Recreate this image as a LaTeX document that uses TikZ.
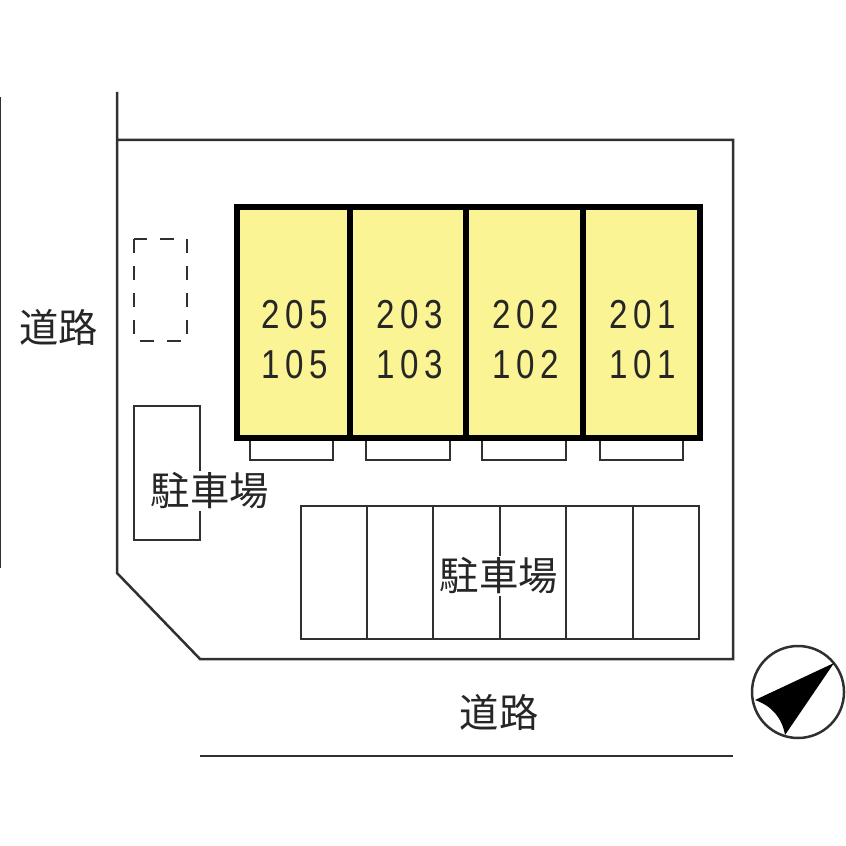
\documentclass[tikz,border=0pt]{standalone}
\usepackage{fontspec}
\setmainfont{Noto Sans CJK JP}
\newfontfamily\numfont[FakeStretch=0.82, LetterSpace=14]{Liberation Sans}
\definecolor{unityellow}{HTML}{FBF495}
\definecolor{planline}{HTML}{303030}
\tikzset{
	plan/.style={draw=planline, line width=0.25mm},
	unit/.style={draw=black, line width=0.6mm, fill=unityellow},
	lab/.style={font=\fontsize{11.2pt}{12pt}\selectfont, text=black!85, fill=white, inner sep=0.5pt},
	num/.style={font=\numfont\fontsize{11.5pt}{14.2pt}\selectfont, text=black!85, align=center, inner sep=0pt}
}
\begin{document}
\begin{tikzpicture}[x=0.1mm, y=-0.1mm]
	\useasboundingbox (0,0) rectangle (846,846);
	% roads and site
	\draw[plan] (0,97) -- (0,568);
	\draw[plan] (200,756) -- (733,756);
	\draw[plan] (117,92) -- (117,573) -- (200,659) -- (733,659) -- (733,140) -- (117,140);
	% building
	\draw[plan] (250,438) rectangle (333,460);
	\draw[plan] (366,438) rectangle (450,460);
	\draw[plan] (482,438) rectangle (566,460);
	\draw[plan] (600,438) rectangle (683,460);
	\draw[unit] (237,207) rectangle (350,438);
	\draw[unit] (350,207) rectangle (466,438);
	\draw[unit] (466,207) rectangle (583,438);
	\draw[unit] (583,207) rectangle (700,438);
	\node[num] (unitA) at (295,340) {205\\105};
	\node[num] (unitB) at (410,340) {203\\103};
	\node[num] (unitC) at (526,340) {202\\102};
	\node[num] (unitD) at (643,340) {201\\101};
	% parking
	\draw[plan, dash pattern=on 1.4mm off 1.3mm] (134,239) rectangle (187,341);
	\draw[plan] (134,406) rectangle (200,540);
	\draw[plan] (301,506) rectangle (699,639);
	\foreach \x in {367,433,500,566,633}
		\draw[plan] (\x,506) -- (\x,639);
	% labels
	\node[lab] (parkLeft) at (210,491) {駐車場};
	\node[lab] (parkMain) at (499,576) {駐車場};
	\node[lab, fill=none] (roadLeft) at (59,327) {道路};
	\node[lab, fill=none] (roadBottom) at (499,712) {道路};
	% compass
	\draw[plan] (798,692) circle (46);
	\fill[black] (834,663) -- (755,700) .. controls (772,706) and (782,718) .. (785,735) -- cycle;
\end{tikzpicture}
\end{document}
